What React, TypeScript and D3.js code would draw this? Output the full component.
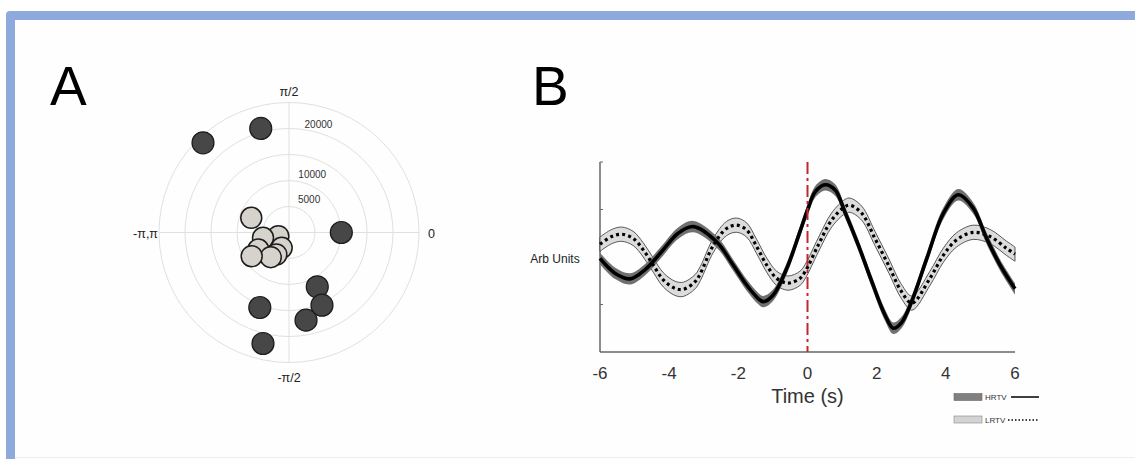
import React from "react";
import * as d3 from "d3";

const W = 1135;
const H = 459;

// Panel A: phase (radians) and amplitude of each subject
const hrtvPhase = [1.836, 2.335, 0, -1.091, -1.145, -1.379, -1.942, -1.801];
const hrtvAmp = [20730, 23900, 10060, 11770, 15350, 17170, 15480, 21920];
const lrtvPhase = [2.77, -2.81, -2.016, -2.941, -2.094, -2.635, -2.208, -2.576];
const lrtvAmp = [7790, 2170, 3270, 5100, 4880, 6750, 5900, 8500];
const ringValues = [5000, 10000, 15000, 20000, 25000];
const ringLabels = [5000, 10000, 20000];

// Panel B: averaged traces (time in s, arbitrary units)
const hrtvTime = [-6, -5.57, -5.13, -4.7, -4.22, -3.74, -3.3, -2.63, -2.15, -1.76, -1.43, -1.28, -0.99, -0.6, -0.22, 0.02, 0.22, 0.51, 0.8, 1.08, 1.47, 1.86, 2.24, 2.48, 2.72, 3.01, 3.45, 3.93, 4.36, 4.79, 5.18, 5.57, 6];
const hrtvValue = [1.97, 1.66, 1.54, 1.73, 2.11, 2.5, 2.64, 2.32, 1.83, 1.41, 1.13, 1.06, 1.2, 1.76, 2.53, 3.03, 3.37, 3.52, 3.41, 2.95, 2.25, 1.48, 0.78, 0.5, 0.62, 1.06, 1.97, 2.92, 3.31, 3.03, 2.39, 1.83, 1.33];
const lrtvTime = [-6, -5.66, -5.37, -5.04, -4.75, -4.46, -4.17, -3.83, -3.59, -3.25, -3.1, -2.72, -2.34, -2.05, -1.76, -1.47, -1.18, -0.89, -0.56, -0.22, -0.07, 0.31, 0.7, 1.08, 1.23, 1.57, 1.95, 2.34, 2.72, 3.02, 3.54, 3.93, 4.31, 4.79, 5.28, 5.76, 6];
const lrtvValue = [2.27, 2.43, 2.48, 2.39, 2.15, 1.83, 1.52, 1.34, 1.32, 1.48, 1.65, 2.25, 2.6, 2.67, 2.57, 2.22, 1.83, 1.55, 1.45, 1.55, 1.69, 2.25, 2.78, 3.06, 3.09, 2.92, 2.39, 1.83, 1.27, 1.03, 1.55, 2.04, 2.36, 2.52, 2.43, 2.18, 2.06];
const hrtvSem = 0.12;
const lrtvSem = 0.15;
const xTicks = [-6, -4, -2, 0, 2, 4, 6];
const yTicks = [1, 2, 3, 4];

const font = "'Liberation Sans', Arial, Helvetica, sans-serif";

type Pt = { t: number; v: number };

const App = () => {
  // polar panel
  const cx = 289;
  const cy = 232.5;
  const r = d3.scaleLinear().domain([0, 25000]).range([0, 130]);
  const R = r(25000);
  const polar = (phi: number, a: number) => [cx + r(a) * Math.cos(phi), cy - r(a) * Math.sin(phi)];

  // time series panel
  const x = d3.scaleLinear().domain([-6, 6]).range([600, 1015]);
  const y = d3.scaleLinear().domain([0, 4]).range([352, 162]);
  const hrtv: Pt[] = hrtvTime.map((t, i) => ({ t, v: hrtvValue[i] }));
  const lrtv: Pt[] = lrtvTime.map((t, i) => ({ t, v: lrtvValue[i] }));
  const line = d3.line<Pt>().x((d) => x(d.t)).y((d) => y(d.v)).curve(d3.curveCatmullRom);
  const band = (sem: number) =>
    d3.area<Pt>().x((d) => x(d.t)).y0((d) => y(d.v - sem)).y1((d) => y(d.v + sem)).curve(d3.curveCatmullRom);

  return (
    <div style={{ position: "absolute", left: 0, top: 0 }}>
      <svg width={W} height={H} style={{ display: "block" }} fontFamily={font}>
        <rect width={W} height={H} fill="#ffffff" />
        {/* frame */}
        <rect x={6} y={11} width={W + 20} height={H + 20} rx={4} fill="#8eaadc" />
        <rect x={15} y={20} width={W} height={H} fill="#fefefe" />
        <line x1={15} x2={W} y1={457.5} y2={457.5} stroke="#eeeeee" />

        {/* Panel A */}
        <text x={50} y={105} fontSize={55} fill="#000">A</text>
        {ringValues.map((v) => (
          <circle key={v} cx={cx} cy={cy} r={r(v)} fill="none" stroke="#e0e0e0" strokeWidth={1} />
        ))}
        <line x1={cx - R} x2={cx + R} y1={cy} y2={cy} stroke="#e0e0e0" />
        <line x1={cx} x2={cx} y1={cy - R} y2={cy + R} stroke="#e0e0e0" />
        {ringLabels.map((v) => (
          <text key={v} x={cx + 17 + r(v) * 0.12} y={cy - r(v) * 0.97 - 4} fontSize={10} textAnchor="middle" fill="#333">
            {v}
          </text>
        ))}
        <text x={cx} y={96} fontSize={12.5} textAnchor="middle" fill="#222">π/2</text>
        <text x={cx} y={382} fontSize={12.5} textAnchor="middle" fill="#222">-π/2</text>
        <text x={158} y={237.5} fontSize={12.5} textAnchor="end" fill="#222">-π,π</text>
        <text x={428} y={237.5} fontSize={12.5} fill="#222">0</text>
        {hrtvPhase.map((p, i) => {
          const [px, py] = polar(p, hrtvAmp[i]);
          return <circle key={"h" + i} cx={px} cy={py} r={11} fill="#474747" stroke="#1c1c1c" strokeWidth={1.2} />;
        })}
        {lrtvPhase.map((p, i) => {
          const [px, py] = polar(p, lrtvAmp[i]);
          return <circle key={"l" + i} cx={px} cy={py} r={10.5} fill="#d6d3cc" stroke="#1c1c1c" strokeWidth={1.5} />;
        })}

        {/* Panel B */}
        <text x={532} y={105} fontSize={55} fill="#000">B</text>
        <line x1={x(-6)} x2={x(-6)} y1={y(4)} y2={y(0)} stroke="#666" strokeWidth={1.5} />
        <line x1={x(-6)} x2={x(6)} y1={y(0)} y2={y(0)} stroke="#666" strokeWidth={1.5} />
        {yTicks.map((t) => (
          <line key={t} x1={x(-6)} x2={x(-6) + 3} y1={y(t)} y2={y(t)} stroke="#666" />
        ))}
        {xTicks.map((t) => (
          <text key={t} x={x(t)} y={378.5} fontSize={17} textAnchor="middle" fill="#333">
            {t}
          </text>
        ))}
        <text x={x(0)} y={403} fontSize={20} textAnchor="middle" fill="#333">Time (s)</text>
        <text x={555} y={263} fontSize={12} textAnchor="middle" fill="#222">Arb Units</text>

        <path d={band(lrtvSem)(lrtv) ?? ""} fill="#dcdcdc" stroke="#333" strokeWidth={0.8} />
        <path d={band(hrtvSem)(hrtv) ?? ""} fill="#707070" stroke="none" />
        <path d={line(hrtv) ?? ""} fill="none" stroke="#000" strokeWidth={3.6} />
        <path d={line(lrtv) ?? ""} fill="none" stroke="#000" strokeWidth={3.2} strokeDasharray="3 3.2" />
        <line x1={x(0)} x2={x(0)} y1={y(4)} y2={y(0)} stroke="#c1272d" strokeWidth={2} strokeDasharray="12 4 3 4" />

        {/* legend */}
        <rect x={954} y={393.5} width={28} height={7} fill="#808080" stroke="#666" strokeWidth={0.6} />
        <text x={985} y={400} fontSize={8} fill="#333">HRTV</text>
        <line x1={1011} x2={1039} y1={397} y2={397} stroke="#000" strokeWidth={1.5} />
        <rect x={954} y={416} width={28} height={7} fill="#d3d3d3" stroke="#888" strokeWidth={0.6} />
        <text x={985} y={422.5} fontSize={8} fill="#333">LRTV</text>
        <line x1={1008} x2={1039} y1={420} y2={420} stroke="#000" strokeWidth={1.5} strokeDasharray="1.5 2" />
      </svg>
    </div>
  );
};

export default App;
